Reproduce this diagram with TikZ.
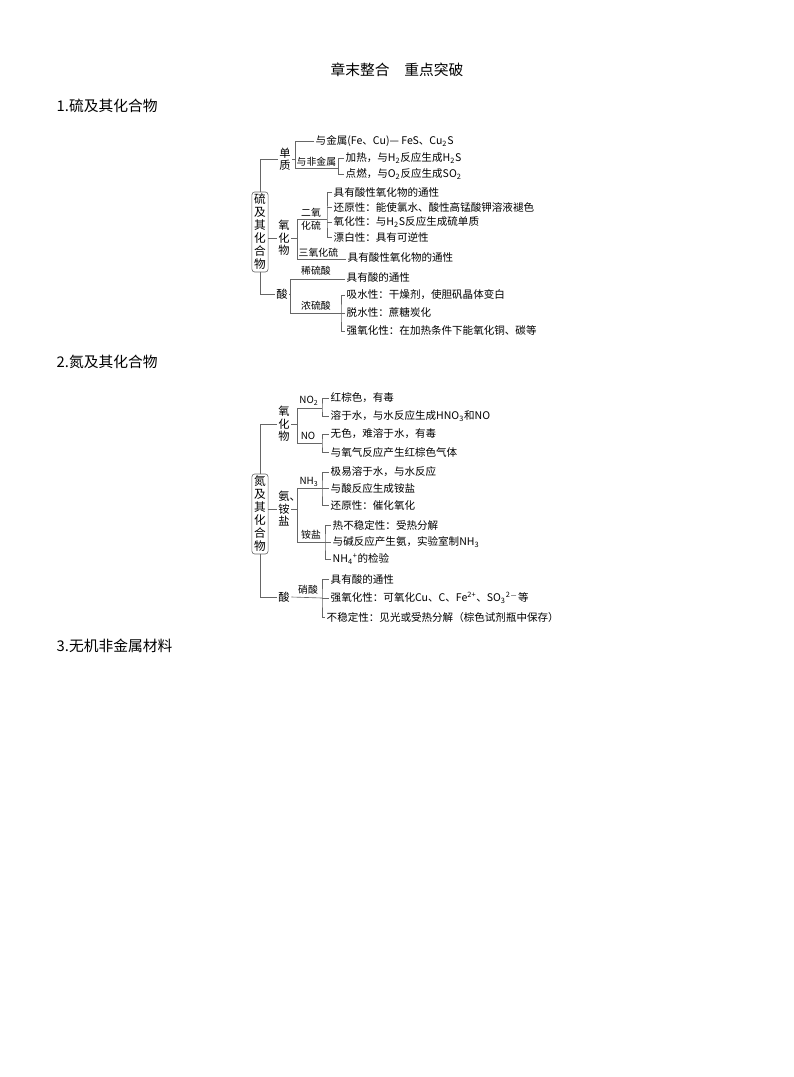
\documentclass[tikz,border=0pt]{standalone}
\usepackage{fontspec}
\setmainfont{Noto Sans CJK SC}
\usepackage{tikz}
\usetikzlibrary{positioning}
\colorlet{linegray}{black!60}

\begin{document}
\begin{tikzpicture}[
            x = 0.025cm, % one unit is one pixel of the page
            y = -0.025cm, % y grows downwards
            color = linegray, % bracket lines
            line width = 0.45pt % thin line style
        ]
        \tikzstyle{every node}=[inner sep = 1pt, text = black]
        \tikzstyle{head}=[anchor = west, font = \fontsize{10.5}{12}\selectfont]
        \tikzstyle{root}=[
            draw = linegray,
            rounded corners = 2pt,
            align = center,
            inner xsep = 1.6pt,
            minimum height = 2cm,
            font = \fontsize{8.3}{9.25}\selectfont
        ]
        \tikzstyle{branch}=[align = center, font = \fontsize{8}{8.9}\selectfont]
        \tikzstyle{tag}=[font = \fontsize{7}{8}\selectfont]
        \tikzstyle{item}=[anchor = west, font = \fontsize{7.5}{9}\selectfont]

        \useasboundingbox (0,0) rectangle (794,1077);

        % headings
        \node[font = \fontsize{10.5}{12}\selectfont] (title) at (397,70) {章末整合　重点突破};
        \node[head] (sec1) at (55,106) {1.硫及其化合物};
        \node[head] (sec2) at (55,362) {2.氮及其化合物};
        \node[head] (sec3) at (55,646) {3.无机非金属材料};

        % sulfur
        \node[root] (S) at (260,232) {硫\\及\\其\\化\\合\\物};

        \node[branch] (dz) at (285,159) {单\\质};
        \node[item] (m1) at (314,141) {与金属(Fe、Cu)— FeS、Cu\textsubscript{2}S};
        \node[tag, anchor = south west] (fj) at (295,168) {与非金属};
        \node[item] (h1) at (344,158) {加热，与H\textsubscript{2}反应生成H\textsubscript{2}S};
        \node[item] (h2) at (344,174) {点燃，与O\textsubscript{2}反应生成SO\textsubscript{2}};
        \draw (S.north) |- (dz.west);
        \draw (dz.east) -- (dz.east -| fj.south west);
        \draw (m1.west) -| (fj.south west) -- (fj.south east);
        \draw (h1.west) -| (fj.south east) |- (h2.west);

        \node[branch] (yh) at (284,238) {氧\\化\\物};
        \coordinate (so2) at (327,219);
        \node[tag, anchor = south] (eo) at (311,219) {二氧};
        \node[tag, anchor = north] (hl) at (311,219) {化硫};
        \node[item] (k1) at (332,192) {具有酸性氧化物的通性};
        \node[item] (k2) at (332,207) {还原性：能使氯水、酸性高锰酸钾溶液褪色};
        \node[item] (k3) at (332,222) {氧化性：与H\textsubscript{2}S反应生成硫单质};
        \node[item] (k4) at (332,237) {漂白性：具有可逆性};
        \node[tag, anchor = south west] (so3) at (297,259) {三氧化硫};
        \node[item] (k5) at (346,257) {具有酸性氧化物的通性};
        \draw (yh.west -| S.east) -- (yh.west);
        \draw (yh.east) -- (yh.east -| so3.south west);
        \draw (so2) -| (so3.south west) -- (so3.south west -| k5.west);
        \draw (k1.west) -| (so2) |- (k4.west);
        \foreach \k in {k2,k3} \draw (\k.west) -- (\k.west -| so2);

        \node[branch] (sa) at (282,294) {酸};
        \coordinate (xs) at (290,279);
        \coordinate (ns) at (290,313);
        \coordinate (nc) at (341,313);
        \node[tag] (xl) at (316,271) {稀硫酸};
        \node[tag] (nl) at (316,306) {浓硫酸};
        \node[item] (k6) at (345,277) {具有酸的通性};
        \node[item] (k7) at (345,295) {吸水性：干燥剂，使胆矾晶体变白};
        \node[item] (k8) at (345,313) {脱水性：蔗糖炭化};
        \node[item] (k9) at (345,331) {强氧化性：在加热条件下能氧化铜、碳等};
        \draw (S.south) |- (sa.west);
        \draw (sa.east) -- (sa.east -| xs);
        \draw (k6.west |- xs) -- (xs) -- (ns) -- (k8.west);
        \draw (k7.west) -| (nc) |- (k9.west);

        % nitrogen
        \node[root] (N) at (260,514) {氮\\及\\其\\化\\合\\物};

        \node[branch] (yw) at (284,424) {氧\\化\\物};
        \coordinate (ow) at (297,424);
        \coordinate (no2) at (322,408);
        \coordinate (no) at (322,443);
        \node[tag] (tno2) at (309,401) {NO\textsubscript{2}};
        \node[tag] (tno) at (308,436) {NO};
        \node[item] (r1) at (329,398) {红棕色，有毒};
        \node[item] (r2) at (329,416) {溶于水，与水反应生成HNO\textsubscript{3}和NO};
        \node[item] (r3) at (329,434) {无色，难溶于水，有毒};
        \node[item] (r4) at (329,452) {与氧气反应产生红棕色气体};
        \draw (N.north) |- (yw.west);
        \draw (yw.east) -- (ow);
        \draw (no2) -- (no2 -| ow) -- (no -| ow) -- (no);
        \draw (r1.west) -| (no2) |- (r2.west);
        \draw (r3.west) -| (no) |- (r4.west);

        \node[branch] (aa) at (284,509) {氨\rlap{、}\\铵\\盐};
        \coordinate (am) at (297,509);
        \coordinate (nh) at (322,488);
        \coordinate (ay) at (325,542);
        \node[tag] (tnh) at (309,482) {NH\textsubscript{3}};
        \node[tag] (tay) at (311,535) {铵盐};
        \node[item] (q1) at (329,472) {极易溶于水，与水反应};
        \node[item] (q2) at (329,488) {与酸反应生成铵盐};
        \node[item] (q3) at (329,505) {还原性：催化氧化};
        \node[item] (q4) at (331,525) {热不稳定性：受热分解};
        \node[item] (q5) at (331,542) {与碱反应产生氨，实验室制NH\textsubscript{3}};
        \node[item] (q6) at (331,559) {NH\textsubscript{4}\textsuperscript{+}的检验};
        \draw (aa.west -| N.east) -- (aa.west);
        \draw (aa.east) -- (am);
        \draw (nh) -- (nh -| am) -- (ay -| am) -- (ay);
        \draw (q1.west) -| (nh) |- (q3.west);
        \draw (q2.west) -- (nh);
        \draw (q4.west) -| (ay) |- (q6.west);
        \draw (q5.west) -- (ay);

        \node[branch] (sn) at (284,597) {酸};
        \coordinate (xa) at (322,598);
        \node[tag] (txa) at (308,590) {硝酸};
        \node[item] (p1) at (329,579) {具有酸的通性};
        \node[item] (p2) at (329,598) {强氧化性：可氧化Cu、C、Fe\textsuperscript{2+}、SO\textsubscript{3}\textsuperscript{2$-$}等};
        \node[item] (p3) at (325,617) {不稳定性：见光或受热分解（棕色试剂瓶中保存）};
        \draw (N.south) |- (sn.west);
        \draw (sn.east) -- (xa);
        \draw (p1.west) -| (xa) |- (p3.west);
        \draw (p2.west) -- (xa);
    \end{tikzpicture}
\end{document}
